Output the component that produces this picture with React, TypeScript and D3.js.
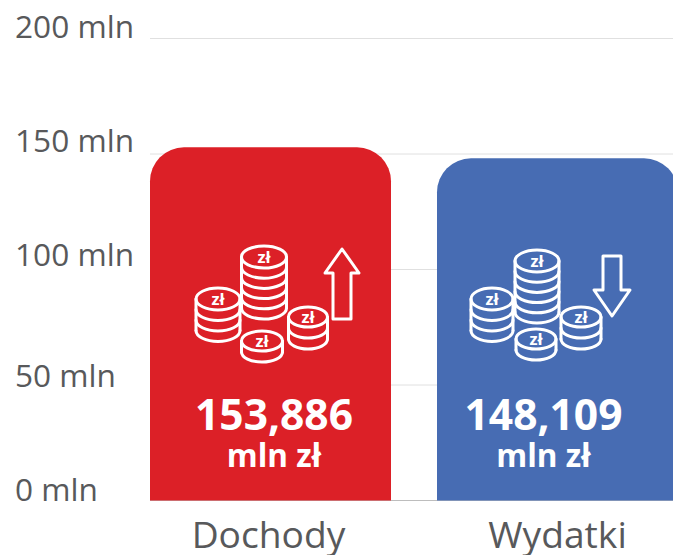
import React from "react";
import * as d3 from "d3";

const categories = ["Dochody", "Wydatki"];
const values = [152.9, 148.109];
const valueLabels = ["153,886", "148,109"];
const colors = ["#DC2027", "#476CB3"];
const ticks = [0, 50, 100, 150, 200];
const tickLabels = ["0 mln", "50 mln", "100 mln", "150 mln", "200 mln"];
const tickLabelY = [490, 376, 255, 141, 27];

const font = "'Open Sans', sans-serif";
const y = d3.scaleLinear().domain([0, 200]).range([500.5, 38.5]);
const x = d3.scaleBand().domain(categories).range([150, 678]).paddingInner(46 / 287).paddingOuter(0);

function topRounded(x0: number, y0: number, w: number, h: number, r: number) {
  const p = d3.path();
  p.moveTo(x0, y0 + h);
  p.lineTo(x0, y0 + r);
  p.arcTo(x0, y0, x0 + r, y0, r);
  p.lineTo(x0 + w - r, y0);
  p.arcTo(x0 + w, y0, x0 + w, y0 + r, r);
  p.lineTo(x0 + w, y0 + h);
  p.closePath();
  return p.toString();
}

function Coins({ cx, top, rx, ry, layers, gap }: { cx: number; top: number; rx: number; ry: number; layers: number; gap: number }) {
  const bottom = top + layers * gap;
  const p = d3.path();
  p.moveTo(cx - rx, top);
  p.lineTo(cx - rx, bottom);
  p.moveTo(cx + rx, top);
  p.lineTo(cx + rx, bottom);
  const arcs = d3.range(1, layers + 1).map((i) => {
    const yy = top + i * gap;
    return `M${cx - rx},${yy} A${rx},${ry} 0 0 0 ${cx + rx},${yy}`;
  });
  return (
    <g fill="none" stroke="#fff" strokeWidth={3} strokeLinecap="round">
      <ellipse cx={cx} cy={top} rx={rx} ry={ry} />
      <path d={p.toString()} />
      {arcs.map((d, i) => <path key={i} d={d} />)}
      <text x={cx} y={top + 5.5} textAnchor="middle" fontFamily={font} fontWeight={700} fontSize={16.5} fill="#fff" stroke="none">zł</text>
    </g>
  );
}

function UpArrow({ cx, tip, base, hw, sw, headY }: { cx: number; tip: number; base: number; hw: number; sw: number; headY: number }) {
  const pts = [[cx, tip], [cx + hw, headY], [cx + sw, headY], [cx + sw, base], [cx - sw, base], [cx - sw, headY], [cx - hw, headY]];
  return <path d={d3.line()(pts as [number, number][]) + "Z"} fill="none" stroke="#fff" strokeWidth={3} strokeLinejoin="round" />;
}

export default function App() {
  const w = x.bandwidth();
  return (
    <svg width={673} height={555} style={{ position: "absolute", left: 0, top: 0 }}>
      {ticks.map((t, i) => (
        <g key={t}>
          <line x1={150} x2={673} y1={y(t)} y2={y(t)} stroke={t === 0 ? "#bdbdbd" : "#e0e0e0"} strokeWidth={1} />
          <text x={15} y={tickLabelY[i]} dy="0.36em" fontFamily={font} fontSize={31.6} fill="#58595b">{tickLabels[i]}</text>
        </g>
      ))}
      {categories.map((c, i) => {
        const x0 = x(c)!;
        const top = y(values[i]);
        return (
          <g key={c}>
            <path d={topRounded(x0, top, w, y(0) - top, 34)} fill={colors[i]} />
            <text x={x0 + w / 2 + (i === 0 ? 3.5 : -14)} y={430} textAnchor="middle" fontFamily={font} fontWeight={700} fontSize={42.5} fill="#fff">{valueLabels[i]}</text>
            <text x={x0 + w / 2 + (i === 0 ? 3.5 : -14)} y={467} textAnchor="middle" fontFamily={font} fontWeight={700} fontSize={31.5} fill="#fff">mln zł</text>
            <text x={x0 + w / 2 + (i === 0 ? -2 : 0)} y={548} textAnchor="middle" fontFamily={font} fontSize={37.2} fill="#58595b">{c}</text>
          </g>
        );
      })}
      <g>
        <Coins cx={264} top={257} rx={22.5} ry={11} layers={5} gap={10.2} />
        <Coins cx={218} top={299} rx={22} ry={11} layers={3} gap={10.5} />
        <Coins cx={308} top={317} rx={19.5} ry={10} layers={2} gap={11} />
        <Coins cx={262} top={341} rx={20.5} ry={10} layers={1} gap={11} />
        <UpArrow cx={342} tip={249} base={319} hw={17} sw={9} headY={273} />
      </g>
      <g>
        <Coins cx={537} top={261} rx={22} ry={11} layers={5} gap={10.2} />
        <Coins cx={492} top={299} rx={21} ry={11} layers={3} gap={10.5} />
        <Coins cx={581} top={317} rx={20} ry={10} layers={2} gap={11} />
        <Coins cx={536} top={339} rx={20} ry={10} layers={1} gap={11} />
        <g transform="rotate(180 612 286)">
          <UpArrow cx={612} tip={256} base={316} hw={18} sw={9} headY={282} />
        </g>
      </g>
    </svg>
  );
}
